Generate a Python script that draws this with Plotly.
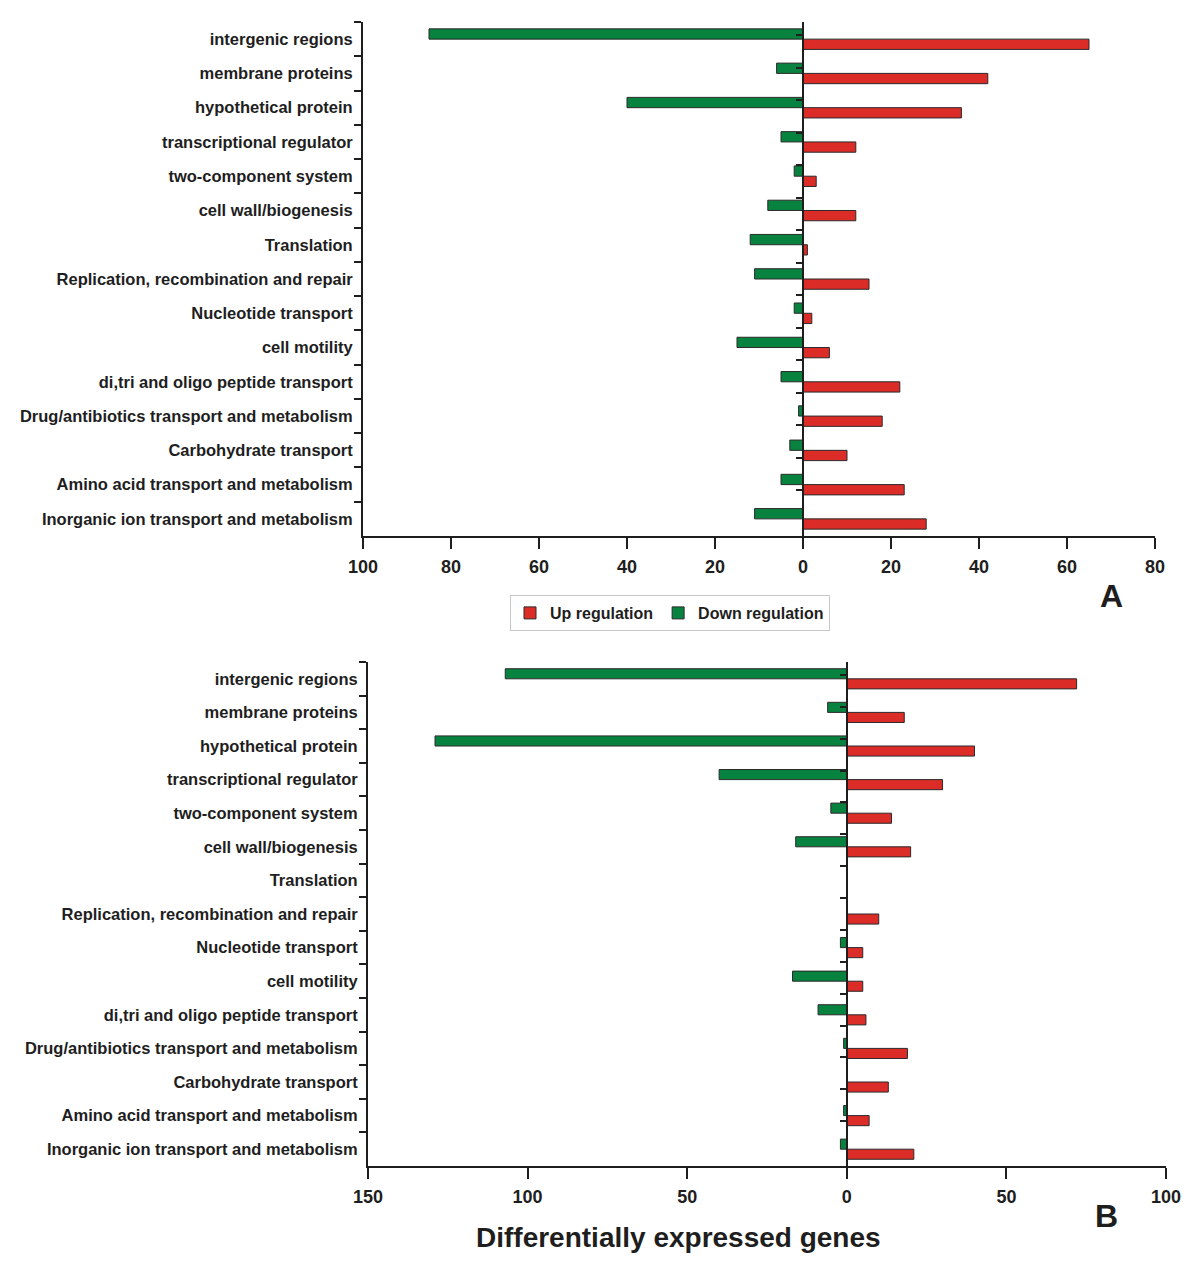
import plotly.graph_objects as go

categories = [
    "intergenic regions", "membrane proteins", "hypothetical protein",
    "transcriptional regulator", "two-component system", "cell wall/biogenesis",
    "Translation", "Replication, recombination and repair", "Nucleotide transport",
    "cell motility", "di,tri and oligo peptide transport",
    "Drug/antibiotics transport and metabolism", "Carbohydrate transport",
    "Amino acid transport and metabolism", "Inorganic ion transport and metabolism",
]

up_A = [65, 42, 36, 12, 3, 12, 1, 15, 2, 6, 22, 18, 10, 23, 28]
down_A = [85, 6, 40, 5, 2, 8, 12, 11, 2, 15, 5, 1, 3, 5, 11]

up_B = [72, 18, 40, 30, 14, 20, 0, 10, 5, 5, 6, 19, 13, 7, 21]
down_B = [107, 6, 129, 40, 5, 16, 0, 0, 2, 17, 9, 1, 0, 1, 2]

ticks_A = [-100, -80, -60, -40, -20, 0, 20, 40, 60, 80]
ticks_B = [-150, -100, -50, 0, 50, 100]
range_A = [-100, 80]
range_B = [-150, 100]

RED = "#DC2C28"
GREEN = "#08823F"
EDGE = "#2a2a2a"
TXT = "#1e1e1e"
FONT = "Liberation Sans, Arial, sans-serif"

W, H = 1200, 1263
OFF = 8  # page body margin: screen pixel = paper pixel + OFF

# screen-pixel layout of the two panels
A_px = dict(x0=363, x1=1155, y0=22, y1=536)
B_px = dict(x0=368, x1=1166, y0=662, y1=1166)


def px_x(x):
    return (x - OFF) / W


def px_y(y):
    return 1 - (y - OFF) / H


def dom(p):
    return [px_x(p["x0"]), px_x(p["x1"])], [px_y(p["y1"]), px_y(p["y0"])]


def zero_pos(p, rng):
    return px_x(p["x0"] + (0 - rng[0]) / (rng[1] - rng[0]) * (p["x1"] - p["x0"]))


fig = go.Figure()

panels = [
    (up_A, down_A, "x", "y", "y3", True),
    (up_B, down_B, "x2", "y2", "y4", False),
]
for up, down, xa, ya, yz, show in panels:
    fig.add_trace(go.Bar(
        y=categories, x=[-v for v in down], orientation="h", name="Down regulation",
        marker=dict(color=GREEN, line=dict(color=EDGE, width=1)),
        xaxis=xa, yaxis=ya, showlegend=show, legendrank=2, legendgroup="down",
    ))
    fig.add_trace(go.Bar(
        y=categories, x=up, orientation="h", name="Up regulation",
        marker=dict(color=RED, line=dict(color=EDGE, width=1)),
        xaxis=xa, yaxis=ya, showlegend=show, legendrank=1, legendgroup="up",
    ))
    # invisible trace carrying the zero-line category axis
    fig.add_trace(go.Scatter(
        y=categories, x=[0] * len(categories), mode="markers",
        marker=dict(opacity=0), xaxis=xa, yaxis=yz, showlegend=False, hoverinfo="skip",
    ))

xdA, ydA = dom(A_px)
xdB, ydB = dom(B_px)

tick_font = dict(family=FONT, size=18, color=TXT, weight="bold")
cat_font = dict(family=FONT, size=16.5, color=TXT, weight="bold")


def xaxis(domain, anchor, ticks, rng):
    return dict(
        domain=domain, anchor=anchor, range=rng, tickvals=ticks,
        ticktext=[str(abs(t)) for t in ticks], showline=True, linecolor=TXT,
        linewidth=2, ticks="outside", ticklen=11, tickwidth=2, tickcolor=TXT,
        tickfont=tick_font, ticklabelstandoff=2, showgrid=False, zeroline=False,
        fixedrange=True, automargin=False,
    )


def yaxis(domain, anchor):
    return dict(
        domain=domain, anchor=anchor, type="category", categoryarray=categories,
        autorange="reversed", tickson="boundaries", ticks="outside", ticklen=7,
        tickwidth=2, tickcolor=TXT, showline=True, linecolor=TXT, linewidth=2,
        tickfont=cat_font, ticklabelstandoff=5, showgrid=False, zeroline=False,
        automargin=False,
    )


def zaxis(over, pos):
    return dict(
        overlaying=over, anchor="free", position=pos, side="left",
        type="category", categoryarray=categories, autorange="reversed",
        tickson="boundaries", ticks="outside", ticklen=6, tickwidth=2,
        tickcolor=TXT, showline=True, linecolor=TXT, linewidth=2,
        showticklabels=False, showgrid=False, zeroline=False, automargin=False,
    )


def label(text, x, y, size):
    return dict(text=text, x=px_x(x), y=px_y(y), xref="paper", yref="paper",
                xanchor="center", yanchor="middle", showarrow=False,
                font=dict(family=FONT, size=size, color=TXT, weight="bold"))


fig.update_layout(
    width=W, height=H,
    margin=dict(l=0, r=0, t=0, b=0, autoexpand=False),
    paper_bgcolor="white", plot_bgcolor="white",
    barmode="group", bargap=0.4, bargroupgap=0,
    xaxis=xaxis(xdA, "y", ticks_A, range_A),
    yaxis=yaxis(ydA, "x"),
    yaxis3=zaxis("y", zero_pos(A_px, range_A)),
    xaxis2=xaxis(xdB, "y2", ticks_B, range_B),
    yaxis2=yaxis(ydB, "x2"),
    yaxis4=zaxis("y2", zero_pos(B_px, range_B)),
    legend=dict(
        orientation="h", x=px_x(510), y=px_y(595), xanchor="left", yanchor="top",
        bordercolor="#c8c8c8", borderwidth=1, bgcolor="white",
        font=dict(family=FONT, size=16, color=TXT, weight="bold"),
        itemwidth=30, tracegroupgap=0,
    ),
    annotations=[
        label("A", 1111, 596, 32),
        label("B", 1106, 1216, 32),
        label("Differentially expressed genes", 678, 1237, 28),
    ],
)

fig.write_html("out.html")
